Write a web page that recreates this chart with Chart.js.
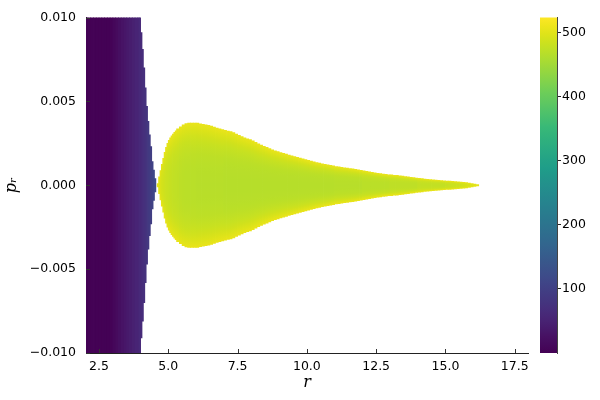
<!DOCTYPE html>
<html>
<head>
<meta charset="utf-8">
<script src="https://cdn.jsdelivr.net/npm/chart.js@4.4.1/dist/chart.umd.min.js"></script>
<style>
  html, body { margin: 0; padding: 0; background: #fff; }
</style>
</head>
<body>
<canvas id="chart" width="600" height="400"></canvas>
<script>
// left block: 0.1-wide columns (centre r, half height in p_r, colour value)
const rLeft = [2.05, 2.15, 2.25, 2.35, 2.45, 2.55, 2.65, 2.75, 2.85, 2.95,
  3.05, 3.15, 3.25, 3.35, 3.45, 3.55, 3.65, 3.75, 3.85];
const hLeft = [0.01, 0.01, 0.01, 0.01, 0.01, 0.01, 0.01, 0.01, 0.01, 0.01,
  0.01, 0.01, 0.01, 0.01, 0.01, 0.01, 0.01, 0.01, 0.01];
const vLeft = [2, 2, 2, 2, 2, 2, 2, 2, 2, 3,
  10, 16, 22, 28, 33, 38, 43, 48, 53];

// left block tip: 0.05-wide columns
const rLeftTip = [3.925, 3.975, 4.025, 4.075, 4.125, 4.175, 4.225, 4.275, 4.325, 4.375,
  4.425, 4.475, 4.525];
const hLeftTip = [0.01, 0.01, 0.0091, 0.0081, 0.007, 0.0058, 0.0047, 0.0038, 0.003, 0.0023,
  0.0014, 0.0009, 0.0004];
const vLeftTip = [57, 60, 63, 67, 71, 75, 80, 86, 91, 97,
  104, 110, 117];

// teardrop head: 0.05-wide columns (colour value is the one on p_r = 0)
const rDropHead = [4.625, 4.675, 4.725, 4.775, 4.825, 4.875, 4.925, 4.975, 5.025, 5.075,
  5.125, 5.175, 5.225, 5.275];
const hDropHead = [0.0001, 0.0005, 0.00087, 0.00124, 0.0016, 0.00196, 0.00225, 0.0025, 0.00268, 0.00282,
  0.00294, 0.00305, 0.00315, 0.00324];
const vDropHead = [503, 498, 494, 490, 487, 485, 483, 481, 480, 478,
  477, 476, 475, 474];

// teardrop body: 0.1-wide columns
const rDrop = [5.35, 5.45, 5.55,
  5.65, 5.75, 5.85, 5.95, 6.05, 6.15, 6.25, 6.35, 6.45, 6.55,
  6.65, 6.75, 6.85, 6.95, 7.05, 7.15, 7.25, 7.35, 7.45, 7.55,
  7.65, 7.75, 7.85, 7.95, 8.05, 8.15, 8.25, 8.35, 8.45, 8.55,
  8.65, 8.75, 8.85, 8.95, 9.05, 9.15, 9.25, 9.35, 9.45, 9.55,
  9.65, 9.75, 9.85, 9.95, 10.05, 10.15, 10.25, 10.35, 10.45, 10.55,
  10.65, 10.75, 10.85, 10.95, 11.05, 11.15, 11.25, 11.35, 11.45, 11.55,
  11.65, 11.75, 11.85, 11.95, 12.05, 12.15, 12.25, 12.35, 12.45, 12.55,
  12.65, 12.75, 12.85, 12.95, 13.05, 13.15, 13.25, 13.35, 13.45, 13.55,
  13.65, 13.75, 13.85, 13.95, 14.05, 14.15, 14.25, 14.35, 14.45, 14.55,
  14.65, 14.75, 14.85, 14.95, 15.05, 15.15, 15.25, 15.35, 15.45, 15.55,
  15.65, 15.75, 15.85, 15.95, 16.05, 16.15];
const hDrop = [0.00336, 0.00348, 0.0036,
  0.00367, 0.0037, 0.0037, 0.0037, 0.0037, 0.00366, 0.00363, 0.0036, 0.00357, 0.00352,
  0.00346, 0.00341, 0.00336, 0.00331, 0.00327, 0.00323, 0.0032, 0.00313, 0.00305, 0.00297,
  0.00289, 0.00283, 0.00277, 0.00272, 0.00264, 0.00255, 0.00246, 0.00239, 0.00232, 0.00225,
  0.00218, 0.00211, 0.00205, 0.002, 0.00195, 0.0019, 0.00185, 0.0018, 0.00175, 0.0017,
  0.00166, 0.00161, 0.00157, 0.00152, 0.00148, 0.00143, 0.00139, 0.00134, 0.00131, 0.00128,
  0.00125, 0.00122, 0.00119, 0.00115, 0.00111, 0.00109, 0.00106, 0.00104, 0.00102, 0.00099,
  0.00097, 0.00095, 0.00092, 0.00089, 0.00086, 0.00083, 0.0008, 0.00077, 0.00074, 0.00071,
  0.00069, 0.00066, 0.00064, 0.00062, 0.00061, 0.00059, 0.00058, 0.00056, 0.00054, 0.00052,
  0.0005, 0.00047, 0.00045, 0.00043, 0.00041, 0.00039, 0.00037, 0.00035, 0.00034, 0.00032,
  0.0003, 0.00029, 0.00028, 0.00026, 0.00025, 0.00024, 0.00023, 0.00021, 0.0002, 0.00018,
  0.00017, 0.00015, 0.00012, 0.0001, 0.00007, 0.00004];
const vDrop = [473, 471, 470,
  469, 469, 468, 468, 467, 467, 467, 467, 467, 467,
  467, 467, 467, 467, 466, 466, 466, 466, 466, 466,
  466, 466, 466, 466, 466, 466, 466, 466, 466, 466,
  466, 466, 466, 466, 466, 466, 466, 466, 466, 466,
  466, 466, 466, 466, 466, 466, 466, 466, 466, 466,
  466, 466, 466, 466, 467, 467, 467, 467, 467, 467,
  467, 467, 467, 467, 469, 469, 469, 469, 469, 469,
  469, 469, 469, 469, 472, 472, 472, 472, 472, 472,
  472, 472, 472, 472, 476, 476, 476, 476, 476, 476,
  476, 476, 476, 476, 479, 480, 481, 482, 483, 485,
  487, 489, 492, 495, 498, 501];
const vDropEdge = 506;

const xTicks = [2.5, 5.0, 7.5, 10.0, 12.5, 15.0, 17.5];
const yTicks = [-0.010, -0.005, 0.000, 0.005, 0.010];
const cTicks = [100, 200, 300, 400, 500];
const cMin = 0, cMax = 523;

const VIRIDIS = [
  [0, '#440154'], [0.055, '#471365'], [0.111, '#482878'], [0.222, '#3e4989'],
  [0.333, '#31688e'], [0.444, '#26828e'], [0.556, '#1f9e89'], [0.667, '#35b779'],
  [0.778, '#6ece58'], [0.889, '#b5de2b'], [0.922, '#cae11f'], [0.941, '#d8e219'],
  [0.961, '#e5e419'], [0.98, '#f1e51d'], [1, '#fde725']
];
const hex = h => [1, 3, 5].map(i => parseInt(h.substr(i, 2), 16));
function viridisAt(t) {
  t = Math.max(0, Math.min(1, t));
  for (let i = 1; i < VIRIDIS.length; i++) {
    if (t <= VIRIDIS[i][0]) {
      const [t0, c0] = VIRIDIS[i - 1], [t1, c1] = VIRIDIS[i];
      const f = (t - t0) / (t1 - t0);
      const a = hex(c0), b = hex(c1);
      return 'rgb(' + a.map((v, k) => Math.round(v + (b[k] - v) * f)).join(',') + ')';
    }
  }
  return VIRIDIS[VIRIDIS.length - 1][1];
}
const viridis = v => viridisAt((v - cMin) / (cMax - cMin));

const solidFill = vals => c => c.type === 'data' ? viridis(vals[c.dataIndex]) : 'transparent';

// teardrop columns: yellow at the rim, greener towards p_r = 0
const dropFill = (hs, vals) => c => {
  if (c.type !== 'data') return 'transparent';
  const chart = c.chart, y = chart.scales.y, i = c.dataIndex;
  const top = y.getPixelForValue(hs[i]), bot = y.getPixelForValue(-hs[i]);
  if (!isFinite(top) || !isFinite(bot) || top === bot) return viridis(vals[i]);
  const g = chart.ctx.createLinearGradient(0, top, 0, bot);
  for (let k = 0; k <= 20; k++) {
    const s = k / 20, t = Math.abs(2 * s - 1);
    g.addColorStop(s, viridis(vals[i] + (vDropEdge - vals[i]) * t * t * t));
  }
  return g;
};

const cols = (rs, hs) => rs.map((r, i) => ({ x: r, y: [-hs[i], hs[i]] }));

const tickFont = { family: 'DejaVu Sans', size: 12.5 };
const guideFont = { family: 'DejaVu Serif', style: 'italic', size: 16 };

// colour bar drawn in the gap left of the cb axis
const colorbar = {
  id: 'colorbar',
  beforeDraw(chart) {
    const cb = chart.scales.cb, gap = chart.scales.gap, ctx = chart.ctx;
    if (!cb || !gap) return;
    const x0 = gap.left + 12, x1 = cb.left;
    const top = cb.getPixelForValue(cMax), bot = cb.getPixelForValue(cMin);
    if (!isFinite(top) || !isFinite(bot)) return;
    const g = ctx.createLinearGradient(0, bot, 0, top);
    for (let k = 0; k <= 40; k++) g.addColorStop(k / 40, viridisAt(k / 40));
    ctx.save();
    ctx.fillStyle = g;
    ctx.fillRect(x0, top, x1 - x0, bot - top);
    ctx.restore();
  }
};

// ticks pointing into the plot, like the original
const innerTicks = {
  id: 'innerTicks',
  afterDraw(chart) {
    const { ctx, chartArea: a, scales: { x, y } } = chart;
    ctx.save();
    ctx.strokeStyle = '#333';
    ctx.lineWidth = 1;
    ctx.beginPath();
    x.ticks.forEach(t => {
      const px = Math.round(x.getPixelForValue(t.value)) + 0.5;
      ctx.moveTo(px, a.bottom); ctx.lineTo(px, a.bottom - 4);
    });
    y.ticks.forEach(t => {
      const py = Math.round(y.getPixelForValue(t.value)) + 0.5;
      ctx.moveTo(a.left, py); ctx.lineTo(a.left + 4, py);
    });
    ctx.stroke();
    ctx.restore();
  }
};

new Chart(document.getElementById('chart'), {
  type: 'bar',
  data: {
    datasets: [
      // 0.1-wide columns are twice the narrowest spacing
      { data: cols(rLeft, hLeft), backgroundColor: solidFill(vLeft), barPercentage: 2 },
      { data: cols(rLeftTip, hLeftTip), backgroundColor: solidFill(vLeftTip) },
      { data: cols(rDropHead, hDropHead), backgroundColor: dropFill(hDropHead, vDropHead) },
      { data: cols(rDrop, hDrop), backgroundColor: dropFill(hDrop, vDrop), barPercentage: 2 }
    ]
  },
  options: {
    responsive: false,
    devicePixelRatio: 1,
    animation: false,
    layout: { padding: { top: 12 } },
    plugins: { legend: { display: false }, tooltip: { enabled: false } },
    datasets: { bar: { categoryPercentage: 1, barPercentage: 1, grouped: false, borderWidth: 0, inflateAmount: 0.4 } },
    scales: {
      x: {
        type: 'linear', min: 2.03, max: 17.98, offset: false, z: 1,
        grid: { display: false, drawTicks: false, offset: false },
        border: { display: true, color: '#222', width: 1 },
        ticks: { font: tickFont, color: '#000', padding: 6, maxRotation: 0, autoSkip: false,
          callback: v => v.toFixed(1) },
        afterBuildTicks: s => { s.ticks = xTicks.map(v => ({ value: v })); },
        afterFit: s => { s.height = 47; },
        title: { display: true, text: 'r', font: guideFont, color: '#000', padding: { top: 0, bottom: 8 } }
      },
      y: {
        min: -0.01, max: 0.01, z: 1,
        grid: { display: false, drawTicks: false },
        border: { display: true, color: '#222', width: 1 },
        ticks: { font: tickFont, color: '#000', padding: 10,
          callback: v => (v < -1e-12 ? '\u2212' : '') + Math.abs(v).toFixed(3) },
        afterBuildTicks: s => { s.ticks = yTicks.map(v => ({ value: v })); },
        afterFit: s => { s.width = 86; },
        title: { display: true, text: 'p\u1D63', font: guideFont, color: '#000', padding: { top: 2, bottom: 0 } }
      },
      gap: {
        position: 'right', weight: 0,
        grid: { display: false, drawTicks: false },
        border: { display: false },
        ticks: { display: false },
        afterFit: s => { s.width = 29; }
      },
      cb: {
        position: 'right', weight: 1, min: cMin, max: cMax,
        grid: { display: true, drawOnChartArea: false, drawTicks: true, tickLength: 4, color: '#222' },
        border: { display: true, color: '#444', width: 1 },
        ticks: { font: tickFont, color: '#000', padding: 1 },
        afterBuildTicks: s => { s.ticks = cTicks.map(v => ({ value: v })); },
        afterFit: s => { s.width = 43; }
      }
    }
  },
  plugins: [colorbar, innerTicks]
});
</script>
</body>
</html>
